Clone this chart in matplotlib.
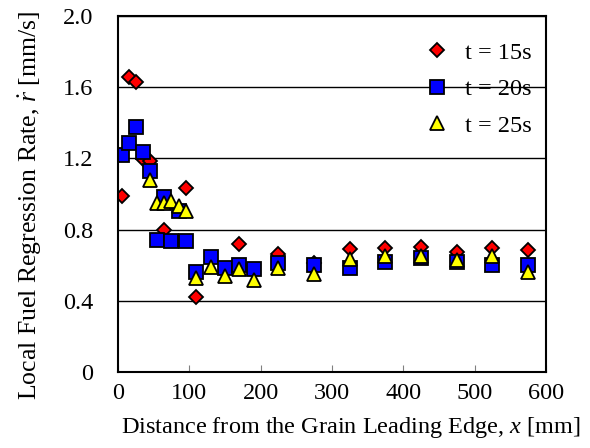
import numpy as np
import matplotlib
matplotlib.use("Agg")
import matplotlib.pyplot as plt

plt.rcParams['font.family'] = ['Liberation Serif', 'DejaVu Serif']
plt.rcParams['mathtext.fontset'] = 'custom'
plt.rcParams['mathtext.rm'] = 'Liberation Serif'
plt.rcParams['mathtext.it'] = 'Liberation Serif:italic'

# position along the grain [mm]
x_pos = [5, 15, 25, 35, 45, 55, 65, 75, 85, 95, 110, 130, 150, 170, 190,
         225, 275, 325, 375, 425, 475, 525, 575]
nan = np.nan
# regression rate [mm/s]
r_15s = [0.99, 1.66, 1.63, 1.195, 1.187, nan, 0.80, nan, nan, 1.032, 0.423, nan, nan, 0.719, nan,
         0.661, 0.61, 0.691, 0.698, 0.704, 0.676, 0.698, 0.685]
r_20s = [1.219, 1.285, 1.378, 1.238, 1.131, 0.742, 0.985, 0.736, 0.905, 0.736, 0.564, 0.648, 0.586, 0.601, 0.577,
         0.61, 0.60, 0.582, 0.62, 0.638, 0.62, 0.601, 0.601]
r_25s = [nan, nan, nan, nan, 1.079, 0.948, 0.951, 0.962, 0.932, 0.904, 0.526, 0.588, 0.541, 0.579, 0.517,
         0.583, 0.549, 0.635, 0.653, 0.653, 0.629, 0.653, 0.56]

fig = plt.figure(figsize=(5.9, 4.48), dpi=100)
ax = fig.add_axes([0.2, 0.1696, 0.7254, 0.7946])

ax.plot(x_pos, r_15s, 'D', ms=7.5, mfc='red', mec='black', mew=1.3, ls='none', label='t = 15s')
ax.plot(x_pos, r_20s, 's', ms=9.5, mfc='blue', mec='black', mew=1.3, ls='none', label='t = 20s')
ax.plot(x_pos, r_25s, '^', ms=10, mfc='yellow', mec='black', mew=1.3, ls='none', label='t = 25s')

ax.set_xlim(0, 600)
ax.set_ylim(0, 2.0)
ax.set_xticks([0, 100, 200, 300, 400, 500, 600])
ax.set_yticks([0, 0.4, 0.8, 1.2, 1.6, 2.0])
ax.set_yticklabels(['0', '0.4', '0.8', '1.2', '1.6', '2.0'])
ax.yaxis.grid(True, color='black', lw=1)
ax.set_axisbelow(True)
ax.tick_params(axis='x', direction='in', length=5, color='gray', labelsize=17.5, pad=8)
ax.tick_params(axis='y', length=0, labelsize=17.5, pad=18)
for s in ax.spines.values():
    s.set_linewidth(1.5)

ax.set_xlabel('Distance from the Grain Leading Edge, $x$ [mm]', fontsize=17.5, labelpad=8)
ax.set_ylabel(r'Local Fuel Regression Rate, $\dot{r}$ [mm/s]', fontsize=18.5, labelpad=13.5)
ax.xaxis.label.set_x(0.544)
ax.yaxis.label.set_y(0.469)

ax.legend(loc='upper right', bbox_to_anchor=(0.99, 0.955), frameon=False, fontsize=17.5,
          handletextpad=0.4, labelspacing=0.6, borderaxespad=0, handlelength=1.5)

fig.savefig('out.png', dpi=100)
